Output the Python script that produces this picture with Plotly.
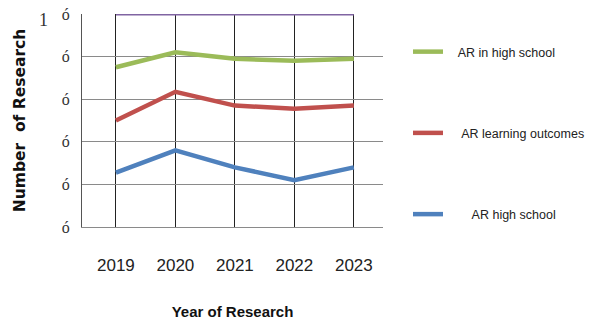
import plotly.graph_objects as go

years = ["2019", "2020", "2021", "2022", "2023"]
total = [100, 100, 100, 100, 100]
ar_in_high_school = [75, 82, 79, 78, 79]
ar_learning_outcomes = [50, 63.5, 57, 55.5, 57]
ar_high_school = [25.5, 36, 28, 22, 28]
y_tick_vals = [0, 20, 40, 60, 80, 100]
y_tick_text = ["ó", "ó", "ó", "ó", "ó", "ó"]

fig = go.Figure()
fig.add_trace(go.Scatter(x=years, y=total, mode="lines", showlegend=False,
                         line=dict(color="#8064A2", width=3)))
fig.add_trace(go.Scatter(x=years, y=ar_in_high_school, mode="lines", name="   AR in high school",
                         legendgroup="g1", line=dict(color="#9BBB59", width=4.5)))
fig.add_trace(go.Scatter(x=years, y=ar_learning_outcomes, mode="lines", name="    AR learning outcomes",
                         legendgroup="g2", line=dict(color="#C0504D", width=4.5)))
fig.add_trace(go.Scatter(x=years, y=ar_high_school, mode="lines", name="       AR high school",
                         legendgroup="g3", line=dict(color="#4F81BD", width=4.5)))

narrow = "Liberation Sans Narrow, Arial Narrow, Liberation Sans, sans-serif"

fig.update_layout(
    width=592, height=324,
    margin=dict(l=82, r=209, t=14, b=97, autoexpand=False),
    plot_bgcolor="white", paper_bgcolor="white",
    legend=dict(x=1.083, xanchor="left", y=0.892, yanchor="top",
                tracegroupgap=62, font=dict(family=narrow, size=12.5, color="#222"),
                itemwidth=30),
    xaxis=dict(type="category", range=[-0.57, 4.49], showgrid=True, gridcolor="#222",
               gridwidth=1, zeroline=False, showline=True, linecolor="#8a8a8a",
               linewidth=1, ticks="", automargin=False,
               ticklabelstandoff=23,
               tickfont=dict(family=narrow, size=17, color="#222"),
               title=dict(text="<b>Year of Research</b>", standoff=32,
                          font=dict(family=narrow, size=15, color="#111"))),
    yaxis=dict(range=[0, 100], tickvals=y_tick_vals, ticktext=y_tick_text,
               showgrid=True, gridcolor="#8a8a8a", gridwidth=1, zeroline=False,
               showline=True, linecolor="#555", linewidth=1, ticks="",
               ticklabelstandoff=8, automargin=False,
               tickfont=dict(family="Liberation Serif, serif", size=16, color="#333"),
               title=dict(text="<b>Number  of Research</b>", standoff=32,
                          font=dict(family="DejaVu Sans, sans-serif", size=15.5, color="#111"))),
)
fig.add_annotation(text="1", xref="paper", yref="paper", x=-0.15, y=1.03, showarrow=False,
                   font=dict(family="Liberation Serif, serif", size=18, color="#333"))

fig.write_html("out.html")
